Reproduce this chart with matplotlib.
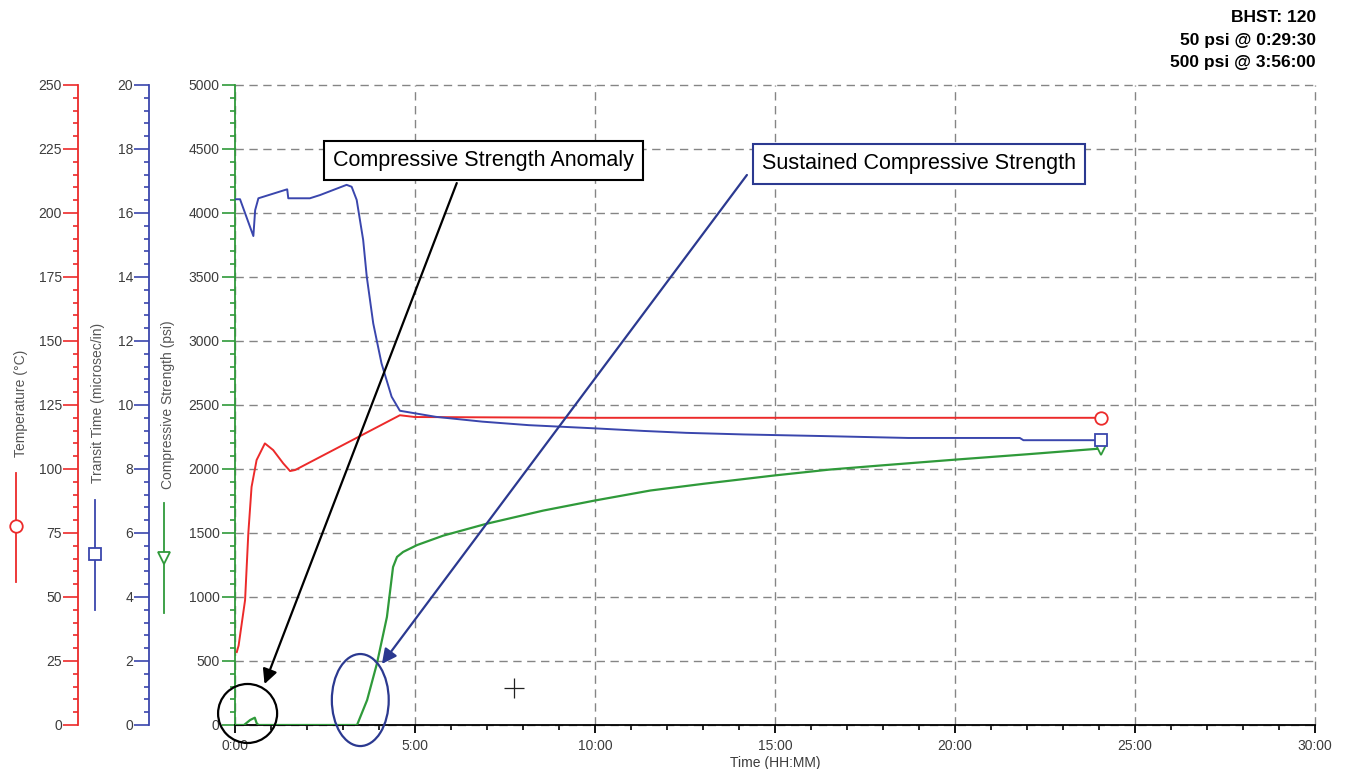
import matplotlib
matplotlib.use('Agg')
import matplotlib.pyplot as plt
from matplotlib.patches import Ellipse
from matplotlib.lines import Line2D
from matplotlib.ticker import MultipleLocator, FuncFormatter

plt.rcParams['font.family'] = ['Liberation Sans', 'DejaVu Sans']

# time in hours
temp_t = [0.05, 0.1, 0.28, 0.37, 0.46, 0.6, 0.83, 1.06, 1.34, 1.53, 1.67, 4.58, 5.0, 10.0, 15.0, 20.0, 24.05]
temp_c = [28.5, 31.0, 48.8, 74.9, 93.0, 103.5, 110.0, 107.4, 102.2, 99.2, 99.6, 121.0, 120.3, 120.0, 120.0, 120.0, 120.0]

tt_t = [0.0, 0.14, 0.51, 0.56, 0.65, 1.39, 1.45, 1.48, 2.08, 2.36, 3.1, 3.24, 3.38, 3.56, 3.66, 3.84,
        4.07, 4.35, 4.58, 5.58, 6.87, 8.16, 10.0, 11.34, 12.53, 14.13, 16.3, 18.7, 20.0, 21.8, 21.9, 24.05]
tt_us = [16.43, 16.43, 15.28, 16.09, 16.46, 16.72, 16.74, 16.46, 16.46, 16.56, 16.88, 16.82, 16.41, 15.16, 14.01, 12.55,
         11.3, 10.26, 9.82, 9.63, 9.48, 9.37, 9.27, 9.19, 9.13, 9.08, 9.03, 8.97, 8.97, 8.97, 8.9, 8.9]

cs_t = [0.0, 0.25, 0.42, 0.55, 0.6, 0.65, 3.39, 3.67, 3.94, 4.22, 4.39, 4.5, 4.67, 5.06, 5.78, 6.97,
        8.56, 10.0, 11.54, 13.03, 15.0, 16.5, 18.0, 20.0, 22.0, 24.05]
cs_psi = [0, 0, 39, 57, 15, 0, 0, 195, 477, 844, 1234, 1313, 1352, 1406, 1479, 1571,
          1675, 1754, 1832, 1885, 1950, 1995, 2029, 2073, 2115, 2160]

info_lines = ['BHST: 120', '50 psi @ 0:29:30', '500 psi @ 3:56:00']

RED = '#ec2a2a'
BLUE = '#3a46ad'
GREEN = '#2f9a3a'
TXT = '#3c3c3c'

W, H = 1346, 769
fig = plt.figure(figsize=(W / 100, H / 100), dpi=100)
ax = fig.add_axes([235 / W, 1 - 725 / H, 1080 / W, 640 / H])

ax.set_xlim(0, 30)
ax.set_ylim(0, 5000)
ax.xaxis.set_major_locator(MultipleLocator(5))
ax.xaxis.set_minor_locator(MultipleLocator(1))
ax.xaxis.set_major_formatter(FuncFormatter(lambda v, p: f'{int(v)}:00'))
ax.yaxis.set_major_locator(MultipleLocator(500))
ax.yaxis.set_minor_locator(MultipleLocator(100))
ax.grid(True, which='major', ls=(0, (6, 4)), color='#858585', lw=1.0)
for g in ax.get_xgridlines() + ax.get_ygridlines():
    g.set_clip_on(False)
for s in ['top', 'right']:
    ax.spines[s].set_visible(False)
ax.spines['left'].set_color(GREEN)
ax.spines['left'].set_linewidth(1.3)
ax.spines['bottom'].set_color('black')
ax.spines['bottom'].set_linewidth(1.3)
ax.tick_params(axis='y', which='major', direction='out', length=9.5, width=1.2, color=GREEN,
               labelsize=10, labelcolor=TXT, pad=1.5)
ax.tick_params(axis='y', which='minor', direction='out', length=3.6, width=1.2, color=GREEN)
ax.tick_params(axis='x', which='major', direction='out', length=6, width=1.3, color='black',
               labelsize=10, labelcolor=TXT, pad=4)
ax.tick_params(axis='x', which='minor', direction='out', length=3.6, width=1.2, color='black')
ax.set_xlabel('Time (HH:MM)', fontsize=10, color=TXT, labelpad=2)

ax.plot(cs_t, cs_psi, color=GREEN, lw=1.6, marker='v', markevery=[len(cs_t) - 1],
        mfc='white', mec=GREEN, ms=9, mew=1.3, zorder=3)


def side_axis(offset, ymax, major, minor, color):
    a = ax.twinx()
    a.set_ylim(0, ymax)
    for s in ['top', 'right', 'bottom']:
        a.spines[s].set_visible(False)
    a.spines['left'].set_visible(True)
    a.spines['left'].set_position(('axes', offset))
    a.spines['left'].set_color(color)
    a.spines['left'].set_linewidth(1.3)
    a.yaxis.set_ticks_position('left')
    a.yaxis.set_major_locator(MultipleLocator(major))
    a.yaxis.set_minor_locator(MultipleLocator(minor))
    a.tick_params(axis='y', which='major', direction='out', length=10.5, width=1.2, color=color,
                  labelsize=10, labelcolor=TXT, pad=1)
    a.tick_params(axis='y', which='minor', direction='out', length=3.6, width=1.2, color=color)
    return a


ax_t = side_axis((78 - 235) / 1080, 250, 25, 5, RED)
ax_t.plot(temp_t, temp_c, color=RED, lw=1.4, marker='o', markevery=[len(temp_t) - 1],
          mfc='white', mec=RED, ms=9, mew=1.3)

ax_b = side_axis((149 - 235) / 1080, 20, 2, 0.4, BLUE)
ax_b.plot(tt_t, tt_us, color=BLUE, lw=1.4, marker='s', markevery=[len(tt_t) - 1],
          mfc='white', mec=BLUE, ms=9, mew=1.3)

# axis titles with their legend glyphs
labels = [('Temperature (°C)', 21, 403, 16, 473, 582, 526, RED, 'o'),
          ('Transit Time (microsec/in)', 98, 403, 95, 500, 610, 554, BLUE, 's'),
          ('Compressive Strength (psi)', 168, 405, 164, 503, 613, 558, GREEN, 'v')]
for txt, tx, ty, lx, y0, y1, ym, c, m in labels:
    fig.text(tx / W, 1 - ty / H, txt, rotation=90, ha='center', va='center', fontsize=10, color='#555555')
    fig.add_artist(Line2D([lx / W, lx / W], [1 - y0 / H, 1 - y1 / H], color=c, lw=1.3))
    fig.add_artist(Line2D([lx / W], [1 - ym / H], marker=m, mfc='white', mec=c, ms=9, mew=1.3))

# annotations
dt = ax.transData
ax_b.add_patch(Ellipse((0.35, 90), 1.64, 461, transform=dt, fill=False, ec='black', lw=1.6, clip_on=False))
ax_b.add_patch(Ellipse((3.48, 195), 1.58, 719, transform=dt, fill=False, ec='#2b3990', lw=1.6, clip_on=False))
ax_b.annotate('', xy=(0.82, 320), xytext=(6.16, 4234), xycoords=dt, textcoords=dt,
              arrowprops=dict(arrowstyle='-|>', color='black', lw=1.6, mutation_scale=22, shrinkA=0, shrinkB=0))
ax_b.annotate('', xy=(4.08, 477), xytext=(14.22, 4297), xycoords=dt, textcoords=dt,
              arrowprops=dict(arrowstyle='-|>', color='#2b3990', lw=1.6, mutation_scale=22, shrinkA=0, shrinkB=0))
ax_b.text(6.9, 4410, 'Compressive Strength Anomaly', transform=dt, ha='center', va='center', fontsize=15.5,
          bbox=dict(boxstyle='square,pad=0.42', fc='white', ec='black', lw=1.5), zorder=5)
ax_b.text(19.0, 4383, 'Sustained Compressive Strength', transform=dt, ha='center', va='center', fontsize=15.5,
          bbox=dict(boxstyle='square,pad=0.42', fc='white', ec='#2b3990', lw=1.5), zorder=5)
ax_b.plot([7.75], [289], transform=dt, marker='+', ms=14, mew=0.9, color='#222222', ls='none')

for i, line in enumerate(info_lines):
    fig.text(1316 / W, 1 - (17 + 23 * i) / H, line, ha='right', va='center', fontsize=12.5, weight='bold')

fig.savefig('out.png', dpi=100)
